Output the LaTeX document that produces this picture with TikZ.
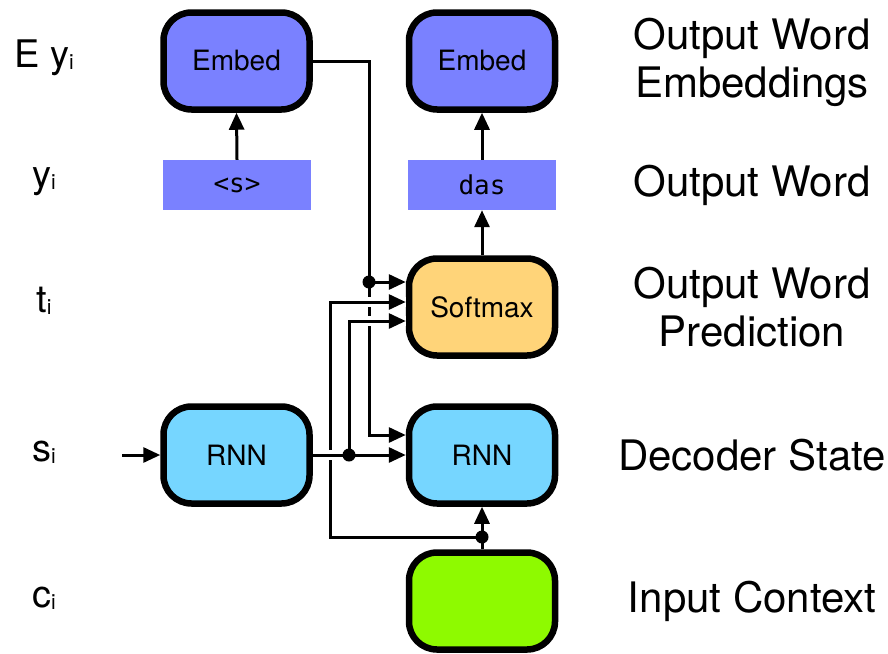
\documentclass[tikz,border=0pt]{standalone}
\usepackage{fontspec}
\setmainfont{TeX Gyre Heros}
\setmonofont{DejaVu Sans Mono}
\usetikzlibrary{arrows.meta,calc}

\definecolor{embedblue}{HTML}{7A81FF}
\definecolor{rnnblue}{HTML}{76D6FF}
\definecolor{softorange}{HTML}{FFD479}
\definecolor{ctxgreen}{HTML}{8EFA00}

\newcommand{\idx}[1]{\raisebox{-2pt}{\fontsize{21}{21}\selectfont #1}}

\begin{document}
\begin{tikzpicture}[x=1pt,y=-1pt]
  \useasboundingbox (0,0) rectangle (888,653);
  \begin{scope}[
    every node/.style={
      draw,
      line width=6.5pt,
      rounded corners=28pt,
      minimum width=146pt,
      minimum height=97pt,
      font=\fontsize{28}{32}\selectfont,
    },
    ]
    \node[fill=embedblue]  (embed1)  at (236.5,61)  {Embed};
    \node[fill=embedblue]  (embed2)  at (482,61)    {Embed};
    \node[fill=softorange] (softmax) at (482,307)   {Softmax};
    \node[fill=rnnblue]    (rnn1)    at (236.5,455) {RNN};
    \node[fill=rnnblue]    (rnn2)    at (482,455)   {RNN};
    \node[fill=ctxgreen]   (context) at (482,601)   {};
  \end{scope}
  \begin{scope}[
    every node/.style={
      fill=embedblue,
      minimum width=148pt,
      minimum height=50pt,
      font=\ttfamily\fontsize{26}{28}\selectfont,
    },
    ]
    \node (start) at (237,185) {<s>};
    \node (das)   at (482,185) {das};
  \end{scope}
  \coordinate (rnnin)   at (122,455);
  \coordinate (embbend) at (369,435);
  \coordinate (embdot)  at (369,282);
  \coordinate (ctxbend) at (330,302);
  \coordinate (ctxdot)  at (482,537);
  \coordinate (rnnbend) at (349,321);
  \coordinate (rnndot)  at (349,455);
  \begin{scope}[
    wire/.style={draw,line width=3pt,-{Triangle[length=17pt,width=15pt]}},
    bridge/.style={preaction={draw=white,line width=10pt,-}},
    ]
    \path
    (start.north)   edge[wire] (embed1.south)
    (das.north)     edge[wire] (embed2.south)
    (softmax.north) edge[wire] (das.south)
    (rnnin)         edge[wire] (rnn1.west);
    \draw[wire] (embed1.east) -| (embbend) -- (rnn2.west |- embbend);
    \draw[wire] (embdot) -- (softmax.west |- embdot);
    \draw[wire,bridge] (ctxdot) -| (ctxbend) -- (softmax.west |- ctxbend);
    \draw[wire,bridge] (rnn1.east) -- (rnn2.west);
    \draw[wire,bridge] (rnndot) -- (rnnbend) -- (softmax.west |- rnnbend);
    \draw[wire] (context.north) -- (rnn2.south);
  \end{scope}
  \foreach \d in {embdot,rnndot,ctxdot}
    \fill (\d) circle (6.5pt);
  % row labels
  \begin{scope}[every node/.style={font=\fontsize{38}{40}\selectfont}]
    \node (ley) at (44,58)  {E y\idx{i}};
    \node (ly)  at (44,182) {y\idx{i}};
    \node (lt)  at (44,301) {t\idx{i}};
    \node (ls)  at (44,452) {s\idx{i}};
    \node (lc)  at (44,598) {c\idx{i}};
  \end{scope}
  \begin{scope}[every node/.style={align=center,font=\fontsize{42}{48}\selectfont}]
    \node (remb)  at (752,62)  {Output Word\\Embeddings};
    \node (rword) at (752,185) {Output Word};
    \node (rpred) at (752,307) {Output Word\\Prediction};
    \node (rstat) at (752,455) {Decoder State};
    \node (rctx)  at (752,601) {Input Context};
  \end{scope}
\end{tikzpicture}
\end{document}
